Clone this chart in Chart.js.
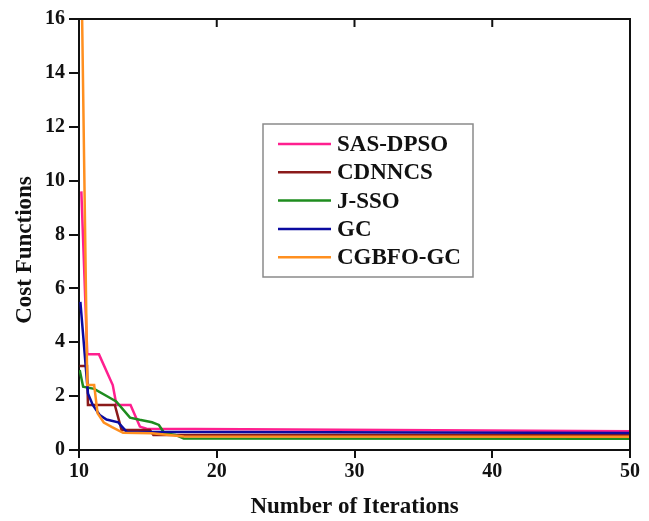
<!DOCTYPE html>
<html>
<head>
<meta charset="utf-8">
<script src="https://cdn.jsdelivr.net/npm/chart.js@4"></script>
<style>
  html, body { margin: 0; padding: 0; background: #fff; }
  #wrap { width: 649px; height: 521px; }
</style>
</head>
<body>
<div id="wrap"><canvas id="costChart" width="649" height="521"></canvas></div>
<script>
// convergence curves, iteration vs cost
const seriesNames = ['SAS-DPSO', 'CDNNCS', 'J-SSO', 'GC', 'CGBFO-GC'];
const seriesColors = ['#ff1f8f', '#8b1a1a', '#1e8c1e', '#0b0ba0', '#ff8f1f'];

const sasIter = [10.17, 10.6, 11.45, 12.45, 12.72, 13.74, 14.42, 14.9, 50];
const sasCost = [9.6, 3.55, 3.55, 2.41, 1.67, 1.67, 0.87, 0.79, 0.70];

const cdnIter = [10.05, 10.58, 10.65, 12.6, 13.09, 15.15, 15.4, 50];
const cdnCost = [3.12, 3.12, 1.67, 1.67, 0.74, 0.74, 0.56, 0.56];

const jssoIter = [10.05, 10.3, 11.1, 12.2, 12.7, 13.7, 14.4, 15.3, 15.8, 16.2, 17.0, 17.6, 50];
const jssoCost = [2.97, 2.35, 2.27, 1.95, 1.8, 1.2, 1.12, 1.03, 0.93, 0.62, 0.56, 0.43, 0.42];

const gcIter = [10.1, 10.65, 11.0, 11.5, 12.0, 12.84, 13.45, 50];
const gcCost = [5.5, 2.1, 1.67, 1.3, 1.13, 1.03, 0.68, 0.63];

const cgbIter = [10.2, 10.6, 11.1, 11.35, 11.8, 12.4, 13.2, 15.3, 17.6, 50];
const cgbCost = [17, 2.41, 2.41, 1.36, 1.02, 0.85, 0.64, 0.62, 0.5, 0.49];

const xTicks = [10, 20, 30, 40, 50];
const yTicks = [0, 2, 4, 6, 8, 10, 12, 14, 16];

const serif = '"Liberation Serif", "Times New Roman", serif';

function pts(xs, ys) {
  return xs.map((x, i) => ({ x: x, y: ys[i] }));
}

const allIter = [sasIter, cdnIter, jssoIter, gcIter, cgbIter];
const allCost = [sasCost, cdnCost, jssoCost, gcCost, cgbCost];

const datasets = seriesNames.map((name, i) => ({
  label: name,
  data: pts(allIter[i], allCost[i]),
  borderColor: seriesColors[i],
  backgroundColor: seriesColors[i],
  borderWidth: 2.5,
  pointRadius: 0,
  tension: 0,
  order: seriesNames.length - i
}));

// top/right frame, inward ticks, rotated y title and boxed legend
const decor = {
  id: 'decor',
  afterDraw(chart) {
    const { ctx, chartArea: a, scales } = chart;
    ctx.save();
    ctx.strokeStyle = '#111';
    ctx.lineWidth = 2;
    ctx.beginPath();
    ctx.moveTo(a.left, a.top);
    ctx.lineTo(a.right, a.top);
    ctx.lineTo(a.right, a.bottom);
    xTicks.slice(1, -1).forEach(v => {
      const x = scales.x.getPixelForValue(v);
      ctx.moveTo(x, a.top);
      ctx.lineTo(x, a.top + 8);
    });
    ctx.stroke();

    // y title
    ctx.fillStyle = '#111';
    ctx.font = 'bold 23px ' + serif;
    ctx.textAlign = 'center';
    ctx.textBaseline = 'middle';
    ctx.translate(25, 250);
    ctx.rotate(-Math.PI / 2);
    ctx.fillText('Cost Functions', 0, 0);
    ctx.setTransform(1, 0, 0, 1, 0, 0);

    // legend box
    ctx.strokeStyle = '#8a8a8a';
    ctx.lineWidth = 1.5;
    ctx.strokeRect(263, 124, 210, 153);
    ctx.font = 'bold 23px ' + serif;
    ctx.textAlign = 'left';
    ctx.textBaseline = 'middle';
    chart.data.datasets.forEach((ds, i) => {
      const y = 144 + i * 28.3;
      ctx.strokeStyle = ds.borderColor;
      ctx.lineWidth = 2.5;
      ctx.beginPath();
      ctx.moveTo(278, y);
      ctx.lineTo(331, y);
      ctx.stroke();
      ctx.fillStyle = '#111';
      ctx.fillText(ds.label, 337, y + 1);
    });
    ctx.restore();
  }
};

new Chart(document.getElementById('costChart'), {
  type: 'line',
  data: { datasets: datasets },
  plugins: [decor],
  options: {
    responsive: false,
    animation: false,
    layout: { padding: { left: 0, right: 19, top: 19, bottom: 0 } },
    plugins: {
      legend: { display: false },
      tooltip: { enabled: false }
    },
    scales: {
      x: {
        type: 'linear',
        min: 10,
        max: 50,
        afterBuildTicks: s => { s.ticks = xTicks.map(v => ({ value: v })); },
        afterFit: s => { s.height = 71; },
        grid: { drawOnChartArea: false, color: '#111', lineWidth: 2, tickLength: 8 },
        border: { color: '#111', width: 2 },
        ticks: { color: '#111', padding: 2, font: { family: serif, size: 20, weight: 'bold' } },
        title: {
          display: true,
          text: 'Number of Iterations',
          color: '#111',
          padding: { top: 0, bottom: 0 },
          font: { family: serif, size: 23, weight: 'bold' }
        }
      },
      y: {
        min: 0,
        max: 16,
        afterBuildTicks: s => { s.ticks = yTicks.map(v => ({ value: v })); },
        afterFit: s => { s.width = 79; },
        grid: { drawOnChartArea: false, color: '#111', lineWidth: 2, tickLength: 10 },
        border: { color: '#111', width: 2 },
        ticks: { color: '#111', padding: 4, font: { family: serif, size: 20, weight: 'bold' } }
      }
    }
  }
});
</script>
</body>
</html>
